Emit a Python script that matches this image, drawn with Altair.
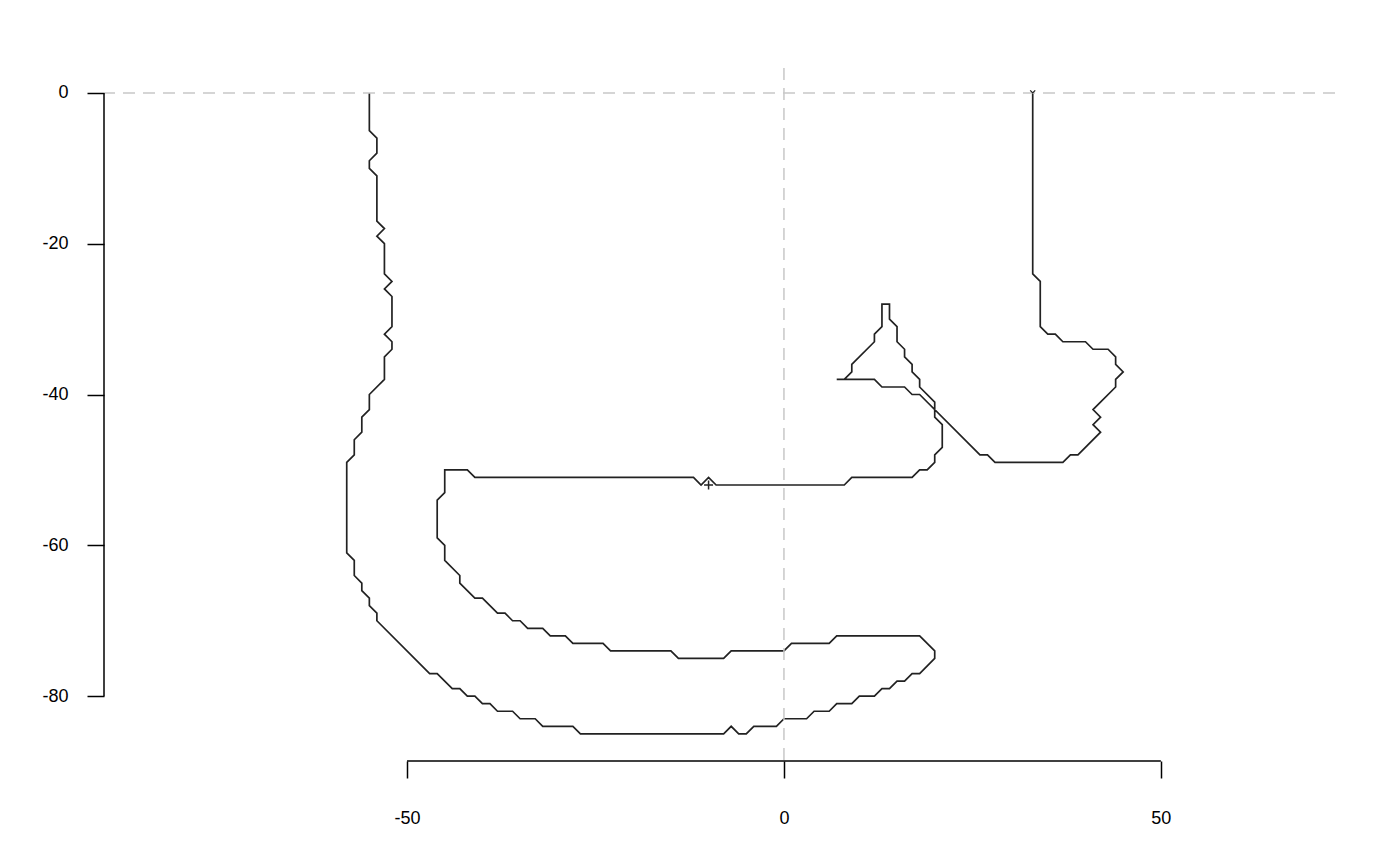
import altair as alt
import pandas as pd

# Track coordinates
path_x = [-55, -55, -54, -54, -55, -55, -54, -54, -53, -54, -53, -53, -52, -53, -52, -52, -53, -52, -52, -53,
          -53, -55, -55, -56, -56, -57, -57, -58, -58, -57, -57, -56, -56, -55, -55, -54, -54, -47, -46, -44,
          -43, -42, -41, -40, -39, -38, -36, -35, -33, -32, -28, -27, -8, -7, -6, -5, -4, -1, 0, 3,
          4, 6, 7, 9, 10, 12, 13, 14, 15, 16, 17, 18, 20, 20, 18, 7, 6, 1, 0, -7,
          -8, -14, -15, -23, -24, -28, -29, -31, -32, -34, -35, -36, -37, -38, -40, -41, -43, -43, -45, -45,
          -46, -46, -45, -45, -42, -41, -12, -11, -10, -9, 8, 9, 17, 18, 19, 20, 20, 21, 21, 20,
          20, 18, 18, 17, 17, 16, 16, 15, 15, 14, 14, 13, 13, 12, 12, 9, 9, 8, 7, 12,
          13, 16, 17, 18, 26, 27, 28, 37, 38, 39, 42, 41, 42, 41, 44, 44, 45, 44, 44, 43,
          41, 40, 37, 36, 35, 34, 34, 33, 33]
path_y = [0, -5, -6, -8, -9, -10, -11, -17, -18, -19, -20, -24, -25, -26, -27, -31, -32, -33, -34, -35,
          -38, -40, -42, -43, -45, -46, -48, -49, -61, -62, -64, -65, -66, -67, -68, -69, -70, -77, -77, -79,
          -79, -80, -80, -81, -81, -82, -82, -83, -83, -84, -84, -85, -85, -84, -85, -85, -84, -84, -83, -83,
          -82, -82, -81, -81, -80, -80, -79, -79, -78, -78, -77, -77, -75, -74, -72, -72, -73, -73, -74, -74,
          -75, -75, -74, -74, -73, -73, -72, -72, -71, -71, -70, -70, -69, -69, -67, -67, -65, -64, -62, -60,
          -59, -54, -53, -50, -50, -51, -51, -52, -51, -52, -52, -51, -51, -50, -50, -49, -48, -47, -44, -43,
          -41, -39, -38, -37, -36, -35, -34, -33, -31, -30, -28, -28, -31, -32, -33, -36, -37, -38, -38, -38,
          -39, -39, -40, -40, -48, -48, -49, -49, -48, -48, -45, -44, -43, -42, -39, -38, -37, -36, -35, -34,
          -34, -33, -33, -32, -32, -31, -25, -24, 0]

cross_x = [-10]
cross_y = [-52]
head_x = [33]
head_y = [0]

x_ticks = [-50, 0, 50]
y_ticks = [-80, -60, -40, -20, 0]
ref_x = [0]
ref_y = [0]

W, H = 1231, 693
xs = alt.Scale(domain=[-90.2, 73.1], nice=False, zero=False)
ys = alt.Scale(domain=[-88.6, 3.3], nice=False, zero=False)

df = pd.DataFrame({"x": path_x, "y": path_y, "i": list(range(len(path_x)))})

hyphen_label = "datum.value < 0 ? '-' + format(-datum.value, 'd') : format(datum.value, 'd')"

xaxis = alt.Axis(values=x_ticks, domain=False, title=None, grid=False, tickSize=17,
                 labelPadding=40, labelBaseline="middle", labelFlush=False, labelOverlap=False,
                 labelExpr=hyphen_label)
yaxis = alt.Axis(values=y_ticks, domain=False, title=None, grid=False, tickSize=17,
                 labelPadding=19, labelFlush=False, labelOverlap=False,
                 labelExpr=hyphen_label)


def X(field="x"):
    return alt.X(f"{field}:Q", scale=xs, axis=xaxis)


def Y(field="y"):
    return alt.Y(f"{field}:Q", scale=ys, axis=yaxis)


track = alt.Chart(df).mark_line(color="#222222", strokeWidth=1.7).encode(
    x=X(), y=Y(), order="i:Q",
)

ref_h = alt.Chart(pd.DataFrame({"y": ref_y})).mark_rule(
    color="#c8c8c8", strokeDash=[12, 8], strokeWidth=1.5
).encode(y=Y())

ref_v = alt.Chart(pd.DataFrame({"x": ref_x})).mark_rule(
    color="#c8c8c8", strokeDash=[12, 8], strokeWidth=1.5
).encode(x=X())

cross = alt.Chart(pd.DataFrame({"x": cross_x, "y": cross_y})).mark_point(
    shape="M-1,0L1,0M0,-1L0,1", size=81, filled=False, color="#222222", strokeWidth=1.5, opacity=1
).encode(x=X(), y=Y())

head = alt.Chart(pd.DataFrame({"x": head_x, "y": head_y})).mark_point(
    shape="M-1,-1L0,0L1,-1", size=25, filled=False, color="#222222", strokeWidth=1.3, opacity=1
).encode(x=X(), y=Y())

ydom_line = alt.Chart(pd.DataFrame({"y": [min(y_ticks)], "y2": [max(y_ticks)]})).mark_rule(
    color="black", strokeWidth=1.5
).encode(y=Y(), y2="y2:Q", x=alt.value(0))

xdom_line = alt.Chart(pd.DataFrame({"x": [min(x_ticks)], "x2": [max(x_ticks)]})).mark_rule(
    color="black", strokeWidth=1.5
).encode(x=X(), x2="x2:Q", y=alt.value(H))

chart = alt.layer(track, ref_h, ref_v, cross, head, ydom_line, xdom_line).properties(
    width=W, height=H,
    autosize=alt.AutoSizeParams(type="none"),
    padding={"left": 104, "top": 68, "right": 65, "bottom": 104},
    background="white",
).configure_view(stroke=None).configure_axis(
    labelFont="Liberation Sans", labelFontSize=18, labelColor="black",
    tickColor="black", tickWidth=1.5,
)

chart.save("out.html", embed_options={"renderer": "svg", "actions": False})
